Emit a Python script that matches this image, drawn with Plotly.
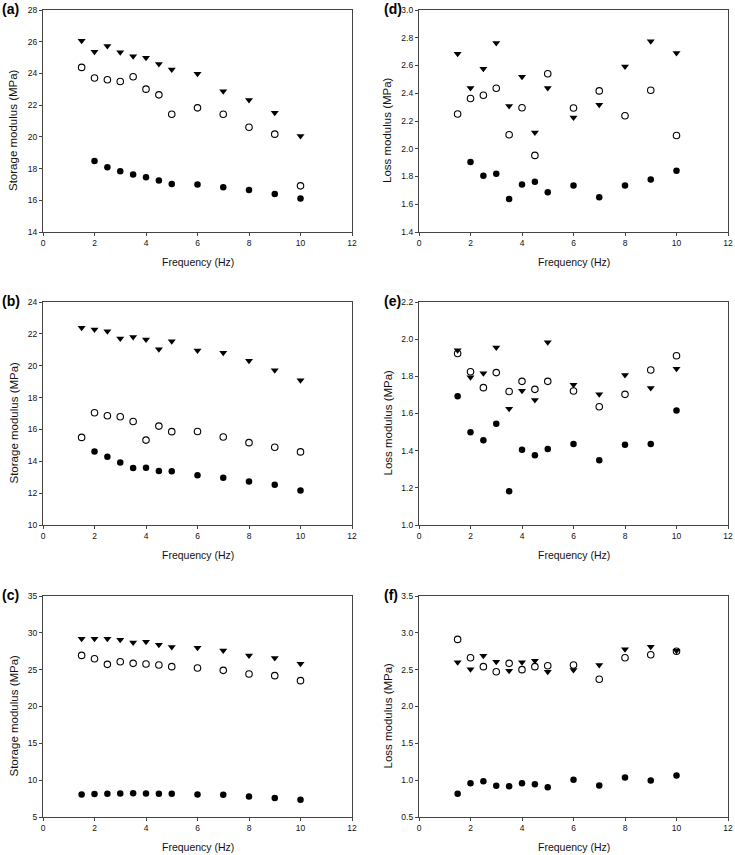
import plotly.graph_objects as go
from plotly.subplots import make_subplots

freq = [1.5, 2, 2.5, 3, 3.5, 4, 4.5, 5, 6, 7, 8, 9, 10]

# (a) storage modulus
a_tri = [26.06, 25.37, 25.73, 25.33, 25.09, 24.99, 24.59, 24.25, 23.98, 22.88, 22.32, 21.52, 20.06]
a_open = [24.38, 23.71, 23.60, 23.49, 23.79, 23.01, 22.65, 21.43, 21.83, 21.43, 20.61, 20.17, 16.91]
a_filled = [None, 18.48, 18.08, 17.83, 17.62, 17.45, 17.24, 17.03, 16.99, 16.82, 16.65, 16.40, 16.11]

# (d) loss modulus
d_tri = [2.685, 2.437, 2.577, 2.762, 2.309, 2.519, 2.117, 2.437, 2.225, 2.317, 2.593, 2.774, 2.690]
d_open = [2.250, 2.362, 2.386, 2.436, 2.101, 2.296, 1.952, 2.540, 2.294, 2.417, 2.238, 2.422, 2.096]
d_filled = [None, 1.904, 1.805, 1.819, 1.638, 1.742, 1.762, 1.687, 1.735, 1.651, 1.735, 1.779, 1.841]

# (b) storage modulus
b_tri = [22.38, 22.27, 22.17, 21.71, 21.81, 21.65, 21.04, 21.53, 20.96, 20.82, 20.31, 19.71, 19.08]
b_open = [15.50, 17.05, 16.86, 16.80, 16.50, 15.33, 16.21, 15.86, 15.87, 15.52, 15.17, 14.88, 14.59]
b_filled = [None, 14.61, 14.29, 13.92, 13.58, 13.60, 13.39, 13.37, 13.13, 12.96, 12.73, 12.52, 12.17]

# (e) loss modulus
e_tri = [1.941, 1.795, 1.817, 1.955, 1.625, 1.723, 1.673, 1.984, 1.755, 1.703, 1.807, 1.737, 1.841]
e_open = [1.923, 1.825, 1.739, 1.820, 1.718, 1.773, 1.730, 1.773, 1.721, 1.636, 1.703, 1.834, 1.911]
e_filled = [1.693, 1.499, 1.456, 1.545, 1.182, 1.405, 1.376, 1.409, 1.436, 1.348, 1.432, 1.436, 1.616]

# (c) storage modulus
c_tri = [29.19, 29.19, 29.19, 29.05, 28.69, 28.78, 28.38, 28.06, 27.97, 27.61, 26.93, 26.57, 25.81]
c_open = [26.94, 26.49, 25.72, 26.08, 25.86, 25.77, 25.63, 25.41, 25.23, 24.91, 24.41, 24.19, 23.51]
c_filled = [8.06, 8.11, 8.15, 8.20, 8.24, 8.20, 8.15, 8.15, 8.06, 8.02, 7.79, 7.57, 7.34]

# (f) loss modulus
f_tri = [2.600, 2.505, 2.689, 2.608, 2.486, 2.600, 2.622, 2.473, 2.496, 2.563, 2.776, 2.811, 2.757]
f_open = [2.911, 2.662, 2.541, 2.471, 2.586, 2.500, 2.541, 2.554, 2.563, 2.370, 2.662, 2.703, 2.750]
f_filled = [0.815, 0.959, 0.986, 0.923, 0.919, 0.959, 0.946, 0.905, 1.005, 0.928, 1.036, 0.995, 1.063]

W, H = 735, 855
font = 'Arial, Liberation Sans, sans-serif'

panels = [
    # label, row, col, series, y title, y range, dtick, tick format
    ('(a)', 1, 1, (a_tri, a_open, a_filled), 'Storage modulus (MPa)', [14, 28], 2, None),
    ('(d)', 1, 2, (d_tri, d_open, d_filled), 'Loss modulus (MPa)', [1.4, 3.0], 0.2, '.1f'),
    ('(b)', 2, 1, (b_tri, b_open, b_filled), 'Storage modulus (MPa)', [10, 24], 2, None),
    ('(e)', 2, 2, (e_tri, e_open, e_filled), 'Loss modulus (MPa)', [1.0, 2.2], 0.2, '.1f'),
    ('(c)', 3, 1, (c_tri, c_open, c_filled), 'Storage modulus (MPa)', [5, 35], 5, None),
    ('(f)', 3, 2, (f_tri, f_open, f_filled), 'Loss modulus (MPa)', [0.5, 3.5], 0.5, '.1f'),
]

# plot boxes in pixels
col_px = {1: (43, 352), 2: (419, 728)}
row_px = {1: (10, 232), 2: (302, 525), 3: (596, 817)}
label_x = {1: 0, 2: 382}
ytitle_x = {1: 13, 2: 387}

fig = make_subplots(rows=3, cols=2)

for label, r, c, (tri, opn, fil), ytitle, yr, dt, fmt in panels:
    fig.add_trace(go.Scatter(x=freq, y=tri, mode='markers',
                             marker=dict(symbol='triangle-down', size=7, color='black', line_width=0)),
                  row=r, col=c)
    fig.add_trace(go.Scatter(x=freq, y=opn, mode='markers',
                             marker=dict(symbol='circle-open', size=6.5, color='black', line_width=1.1)),
                  row=r, col=c)
    fig.add_trace(go.Scatter(x=freq, y=fil, mode='markers',
                             marker=dict(symbol='circle', size=6.5, color='black', line_width=0)),
                  row=r, col=c)

    x0, x1 = col_px[c]
    top, bot = row_px[r]
    fig.update_xaxes(domain=[x0 / W, x1 / W], range=[0, 12], tick0=0, dtick=2,
                     row=r, col=c)
    fig.update_yaxes(domain=[1 - bot / H, 1 - top / H], range=yr, tick0=yr[0], dtick=dt,
                     tickformat=fmt, row=r, col=c)

    fig.add_annotation(text='<b>' + label + '</b>', x=label_x[c] / W, y=1 - (top - 1) / H,
                       xref='paper', yref='paper', xanchor='left', yanchor='middle',
                       showarrow=False, font=dict(size=14, color='black'))
    fig.add_annotation(text=ytitle, x=ytitle_x[c] / W, y=1 - ((top + bot) / 2 + 9) / H,
                       xref='paper', yref='paper', xanchor='center', yanchor='middle',
                       textangle=-90, showarrow=False, font=dict(size=11.5, color='#111'))
    fig.add_annotation(text='Frequency (Hz)', x=(x0 + x1) / 2 / W, y=1 - (bot + 30) / H,
                       xref='paper', yref='paper', xanchor='center', yanchor='middle',
                       showarrow=False, font=dict(size=10.5, color='#111'))

fig.update_xaxes(showline=True, linecolor='#444', linewidth=1.3, mirror=True,
                 ticks='outside', ticklen=3, tickwidth=1, tickcolor='#444', automargin=False,
                 showgrid=False, zeroline=False, tickfont=dict(size=8.5, color='#111'))
fig.update_yaxes(showline=True, linecolor='#444', linewidth=1.3, mirror=True,
                 ticks='outside', ticklen=3, tickwidth=1, tickcolor='#444', automargin=False,
                 showgrid=False, zeroline=False, tickfont=dict(size=8.5, color='#111'))

fig.update_layout(width=W, height=H, margin=dict(l=0, r=0, t=0, b=0, autoexpand=False),
                  paper_bgcolor='white', plot_bgcolor='white', showlegend=False,
                  font=dict(family=font, color='#111'))

# drop the default page margin so the figure sits at the window's corner
fig.write_html("out.html", config={'displayModeBar': False},
               post_script="document.body.style.margin = '0';")
